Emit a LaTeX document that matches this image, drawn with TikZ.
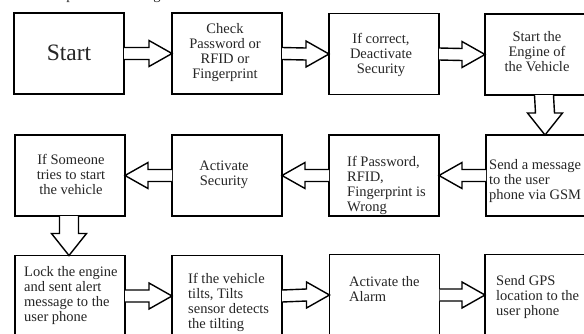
\documentclass[tikz,border=0pt]{standalone}
\usepackage{fontspec}
\setmainfont{Liberation Serif}
\usetikzlibrary{calc}
\tikzset{
  box/.style={draw=black, line width=1.5pt, rectangle, minimum width=110pt, minimum height=81pt, inner sep=0pt, outer sep=0pt},
  blk/.style={draw=black, line width=1.4pt, line join=miter, fill=white},
  txt/.style={font=\fontsize{14.5}{15}\selectfont, inner sep=0pt, text=black!85},
  big/.style={font=\fontsize{23.5}{26}\selectfont, inner sep=0pt, text=black!85}
}
\newcommand\blkR[2]{\draw[blk] ($(#1.east)+(0,-6)$) -- ($(#2.west)+(-23,-6)$) -- ++(0,-7) -- (#2.west) -- ++(-23,13) -- ++(0,-7) -- ($(#1.east)+(0,6)$);}
\newcommand\blkL[2]{\draw[blk] ($(#1.west)+(0,-6)$) -- ($(#2.east)+(23,-6)$) -- ++(0,-7) -- (#2.east) -- ++(23,13) -- ++(0,-7) -- ($(#1.west)+(0,6)$);}
\newcommand\blkD[3]{\draw[blk] ($(#1.south)+({#3-9.5},0)$) -- ($(#2.north)+({#3-9.5},-22)$) -- ++(-8,0) -- ($(#2.north)+(#3,0)$) -- ++(17.5,-22) -- ++(-8,0) -- ($(#1.south)+({#3+9.5},0)$);}
\begin{document}
\begin{tikzpicture}[x=1pt,y=-1pt]
\useasboundingbox (0,0) rectangle (584,333);
\clip (0,0) rectangle (584,333);
\fill[white] (0,0) rectangle (584,333);
% caption fragments cut at top
\node[txt, anchor=base] (cp) at (70,-0.5) {p};
\node[txt, anchor=base] (cg) at (157,-0.5) {g};
% boxes
\node[box] (b1) at (69,53.5) {};
\node[box] (b2) at (227,53.5) {};
\node[box] (b3) at (384,54) {};
\node[box] (b4) at (540,54.5) {};
\node[box] (b5) at (541,175.5) {};
\node[box] (b6) at (384,175.5) {};
\node[box] (b7) at (227,175.5) {};
\node[box] (b8) at (70,175.5) {};
\node[box] (b9) at (70,296) {};
\node[box] (b10) at (227,296) {};
\node[box] (b11) at (384.5,295) {};
\node[box] (b12) at (540,295) {};
% texts
\node[big, anchor=base] (t1) at (69,60) {Start};
\node[txt, anchor=north, align=center] (t2) at (225,23) {Check\\Password or\\RFID or\\Fingerprint};
\node[txt, anchor=north, align=center] (t3) at (381,33) {If correct,\\Deactivate\\Security};
\node[txt, anchor=north, align=center] (t4) at (537,31) {Start the\\Engine of\\the Vehicle};
\node[txt, anchor=north west, align=left] (t5) at (489,159) {Send a message\\to the user\\phone via GSM};
\node[txt, anchor=north west, align=left] (t6) at (347,156) {If Password,\\RFID,\\Fingerprint is\\Wrong};
\node[txt, anchor=north, align=center] (t7) at (224,161) {Activate\\Security};
\node[txt, anchor=north, align=center] (t8) at (71,154) {If Someone\\tries to start\\the vehicle};
\node[txt, anchor=north west, align=left] (t9) at (24,266) {Lock the engine\\and sent alert\\message to the\\user phone};
\node[txt, anchor=north west, align=left] (t10) at (188,273) {If the vehicle\\tilts, Tilts\\sensor detects\\the tilting};
\node[txt, anchor=north west, align=left] (t11) at (349,276) {Activate the\\Alarm};
\node[txt, anchor=north west, align=left] (t12) at (496,275) {Send GPS\\location to the\\user phone};
% block arrows
\blkR{b1}{b2}
\blkR{b2}{b3}
\blkR{b3}{b4}
\blkD{b4}{b5}{4}
\blkL{b5}{b6}
\blkL{b6}{b7}
\blkL{b7}{b8}
\blkD{b8}{b9}{-1}
\blkR{b9}{b10}
\blkR{b10}{b11}
\blkR{b11}{b12}
\end{tikzpicture}
\end{document}
